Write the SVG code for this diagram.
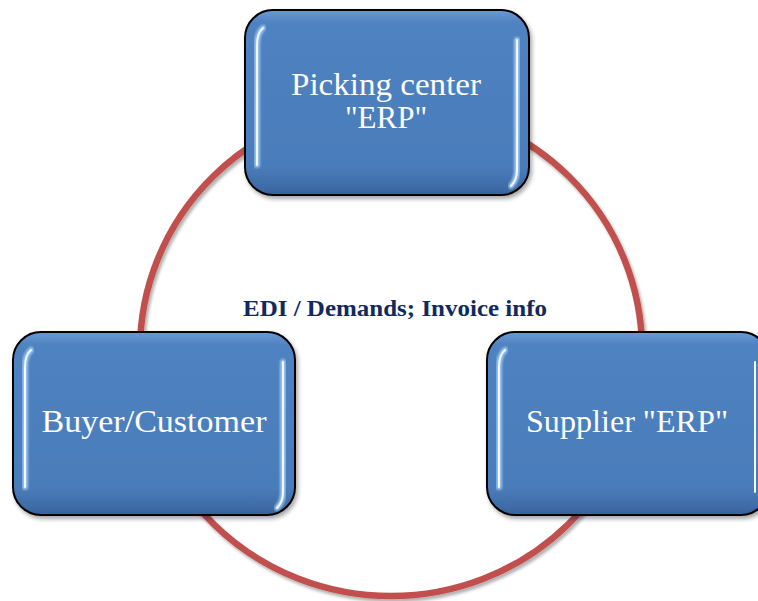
<svg xmlns="http://www.w3.org/2000/svg" width="758" height="601" viewBox="0 0 758 601">
  <defs>
    <linearGradient id="boxFill" x1="0" y1="0" x2="0" y2="1">
      <stop offset="0" stop-color="#6A9AD6"/>
      <stop offset="0.07" stop-color="#4F82C0"/>
      <stop offset="0.85" stop-color="#4A7CBA"/>
      <stop offset="0.96" stop-color="#3E6BA6"/>
      <stop offset="1" stop-color="#35609A"/>
    </linearGradient>
    <filter id="boxShadow" x="-10%" y="-10%" width="120%" height="125%">
      <feDropShadow dx="2" dy="3" stdDeviation="2" flood-color="#000" flood-opacity="0.35"/>
    </filter>
    <filter id="ringShadow" x="-10%" y="-10%" width="120%" height="120%">
      <feDropShadow dx="2" dy="3" stdDeviation="1.6" flood-color="#000" flood-opacity="0.3"/>
    </filter>
    <filter id="glow" x="-50%" y="-10%" width="200%" height="120%">
      <feGaussianBlur stdDeviation="0.9"/>
    </filter>
    <style>
      .box { fill: url(#boxFill); stroke: #000; stroke-width: 2; filter: url(#boxShadow); }
      .shine-wide { fill: none; stroke: #A9D0F5; stroke-width: 6; stroke-linecap: round; opacity: 0.85; filter: url(#glow); }
      .shine-core { fill: none; stroke: #F2F8FF; stroke-width: 2; stroke-linecap: round; }
      .label { font-family: "Liberation Serif", "DejaVu Serif", serif; font-size: 31px; fill: #FFFFFF; text-anchor: middle; }
      .ring { fill: none; stroke: #C0504D; stroke-width: 6.5; filter: url(#ringShadow); }
      .note { font-family: "Liberation Serif", "DejaVu Serif", serif; font-size: 23px; font-weight: bold; fill: #10295E; }
    </style>
  </defs>

  <rect width="758" height="601" fill="#FFFFFF"/>

  <!-- cycle ring behind the nodes -->
  <g id="connectors">
    <ellipse class="ring" cx="391" cy="350" rx="251" ry="246"/>
  </g>

  <text class="note" x="243" y="316" textLength="304" lengthAdjust="spacingAndGlyphs">EDI / Demands; Invoice info</text>

  <g id="picking-center">
    <rect class="box" x="245" y="10" width="284" height="185" rx="28" ry="28"/>
    <path class="shine-wide" d="M 263,28 Q 257,33 257,45 L 257,165"/>
    <path class="shine-core" d="M 263,28 Q 257,33 257,45 L 257,165"/>
    <path class="shine-wide" d="M 517,40 L 517,170 Q 517,180 511,186"/>
    <path class="shine-core" d="M 517,40 L 517,170 Q 517,180 511,186"/>
    <text class="label" x="386" y="95" textLength="190" lengthAdjust="spacingAndGlyphs">Picking center</text>
    <text class="label" x="386" y="128">"ERP"</text>
  </g>

  <g id="buyer-customer">
    <rect class="box" x="13" y="332" width="282" height="183" rx="28" ry="28"/>
    <path class="shine-wide" d="M 31,350 Q 25,355 25,367 L 25,487"/>
    <path class="shine-core" d="M 31,350 Q 25,355 25,367 L 25,487"/>
    <path class="shine-wide" d="M 283,362 L 283,492 Q 283,502 277,508"/>
    <path class="shine-core" d="M 283,362 L 283,492 Q 283,502 277,508"/>
    <text class="label" x="154" y="432" textLength="225" lengthAdjust="spacingAndGlyphs">Buyer/Customer</text>
  </g>

  <g id="supplier-erp">
    <rect class="box" x="487" y="332" width="282" height="183" rx="28" ry="28"/>
    <path class="shine-wide" d="M 505,350 Q 499,355 499,367 L 499,487"/>
    <path class="shine-core" d="M 505,350 Q 499,355 499,367 L 499,487"/>
    <path class="shine-wide" d="M 755,362 L 755,492"/>
    <path class="shine-core" d="M 755,362 L 755,492"/>
    <text class="label" x="627" y="432" textLength="202" lengthAdjust="spacingAndGlyphs">Supplier "ERP"</text>
  </g>
</svg>
